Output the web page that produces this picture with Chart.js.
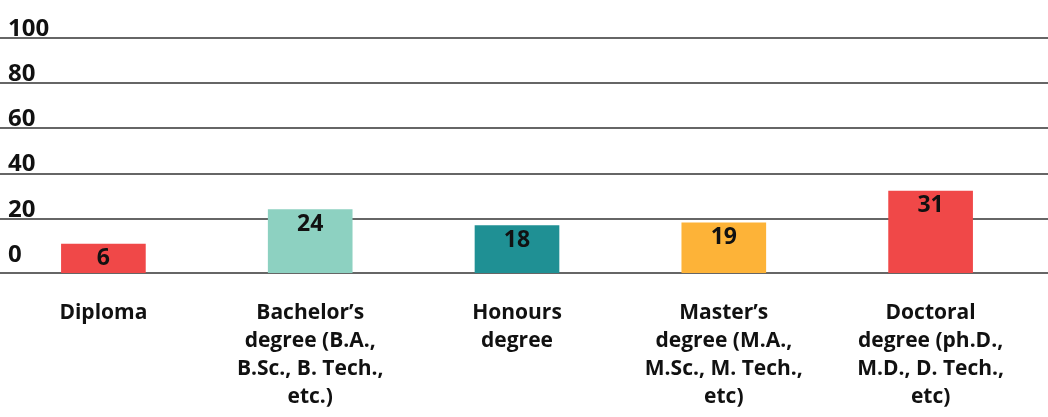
<!DOCTYPE html>
<html>
<head>
<meta charset="utf-8">
<script src="https://cdn.jsdelivr.net/npm/chart.js@4"></script>
<style>
    html, body { margin: 0; padding: 0; background: #fff; }
    #wrap { width: 1048px; height: 417px; }
</style>
</head>
<body>
<div id="wrap"><canvas id="degreeChart"></canvas></div>
<script>
// chart data
const categories = [
    ['Diploma'],
    ['Bachelor\u2019s', 'degree (B.A.,', 'B.Sc., B. Tech.,', 'etc.)'],
    ['Honours', 'degree'],
    ['Master\u2019s', 'degree (M.A.,', 'M.Sc., M. Tech.,', 'etc)'],
    ['Doctoral', 'degree (ph.D.,', 'M.D., D. Tech.,', 'etc)']
];
const values = [6, 24, 18, 19, 31];
const barColors = ['#f04848', '#8dd1c1', '#1f9094', '#fdb338', '#f04848'];
const yTicks = [0, 20, 40, 60, 80, 100];

const FONT = '"Open Sans", "Liberation Sans", sans-serif';
const GRID = '#666666';
const HIDDEN = 'rgba(0,0,0,0)';

// draws the value inside the top of each bar
const valueLabels = {
    id: 'valueLabels',
    afterDatasetsDraw(chart) {
        const ctx = chart.ctx;
        const meta = chart.getDatasetMeta(0);
        ctx.save();
        ctx.font = `700 23px ${FONT}`;
        ctx.fillStyle = '#111';
        ctx.textAlign = 'center';
        ctx.textBaseline = 'top';
        meta.data.forEach((bar, i) => {
            ctx.fillText(String(values[i]), bar.x, bar.y + 3);
        });
        ctx.restore();
    }
};

const ctx = document.getElementById('degreeChart').getContext('2d');
new Chart(ctx, {
    type: 'bar',
    data: {
        labels: categories,
        datasets: [{
            data: values,
            backgroundColor: barColors,
            borderWidth: 0,
            barThickness: 84,
            minBarLength: 29,
            yAxisID: 'yb'
        }]
    },
    options: {
        responsive: true,
        maintainAspectRatio: false,
        animation: false,
        layout: { padding: { top: 38, left: 0, right: 0, bottom: 0 } },
        plugins: {
            legend: { display: false },
            tooltip: { enabled: false }
        },
        scales: {
            x: {
                offset: true,
                afterFit: (s) => { s.height = 144; },
                grid: { display: false, drawTicks: false },
                border: { display: true, color: GRID, width: 2 },
                ticks: {
                    autoSkip: false,
                    maxRotation: 0,
                    padding: 26,
                    color: '#111',
                    font: { family: FONT, size: 21, weight: '700', lineHeight: 1.34 }
                }
            },
            y: {
                position: 'left',
                min: -4,
                max: 100,
                afterBuildTicks: (s) => { s.ticks = yTicks.map(v => ({ value: v })); },
                afterFit: (s) => { s.width = 0; },
                grid: {
                    drawTicks: false,
                    lineWidth: 2,
                    color: (c) => (c.tick && c.tick.value === 0) ? HIDDEN : GRID
                },
                border: { display: false },
                ticks: {
                    mirror: true,
                    align: 'end',
                    padding: 8,
                    labelOffset: 3,
                    color: '#111',
                    font: { family: FONT, size: 24, weight: '700' }
                }
            },
            // only used to run the grid lines (and the base line) out to the right edge
            yr: {
                position: 'right',
                min: -4,
                max: 100,
                afterBuildTicks: (s) => {
                    s.ticks = [{ value: s.min }].concat(yTicks.map(v => ({ value: v })));
                },
                afterFit: (s) => { s.width = 14; },
                grid: {
                    drawOnChartArea: false,
                    drawTicks: true,
                    tickLength: 14,
                    lineWidth: 2,
                    tickColor: (c) => (c.tick && c.tick.value === 0) ? HIDDEN : GRID
                },
                border: { display: false },
                ticks: { display: false }
            },
            yb: {
                display: false,
                min: 0,
                max: 89
            }
        }
    },
    plugins: [valueLabels]
});
</script>
</body>
</html>
